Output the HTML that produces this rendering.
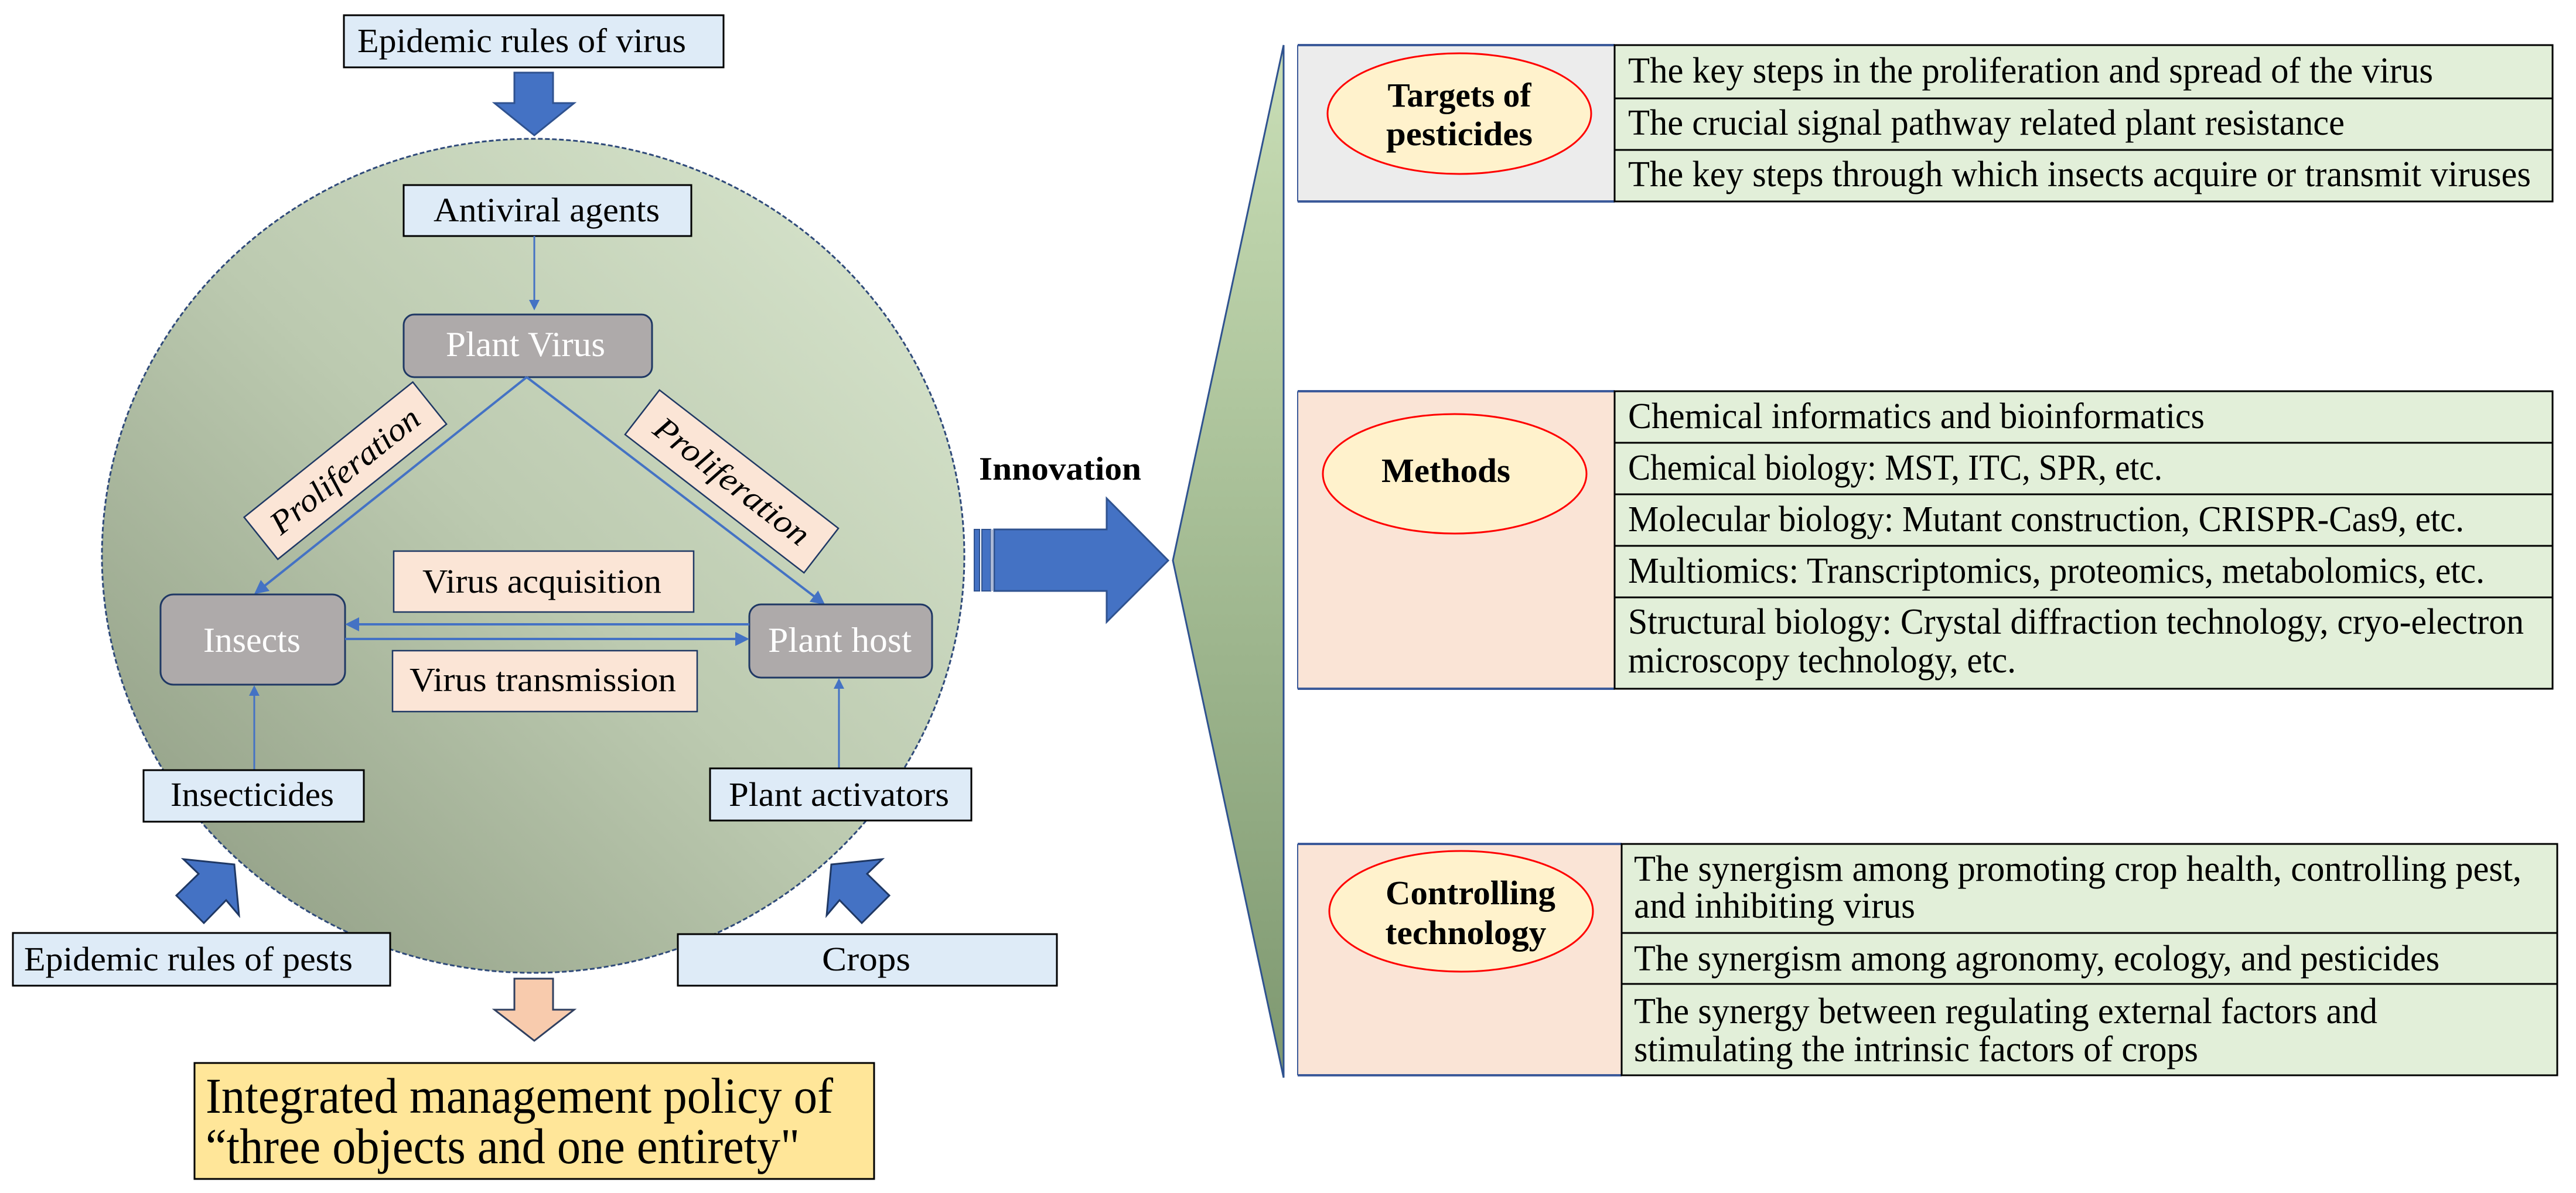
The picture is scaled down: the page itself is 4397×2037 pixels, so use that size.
<!DOCTYPE html>
<html><head><meta charset="utf-8"><style>
html,body{margin:0;padding:0;background:#fff}
svg{display:block}
text{font-family:"Liberation Serif",serif}
</style></head><body>
<svg width="4397" height="2037" viewBox="0 0 4397 2037" xmlns="http://www.w3.org/2000/svg">
<defs>
<linearGradient id="cg" x1="1" y1="0" x2="0" y2="1">
<stop offset="0" stop-color="#dbe8d0"/><stop offset="0.5" stop-color="#bccab0"/><stop offset="1" stop-color="#8a977e"/>
</linearGradient>
<linearGradient id="tg" x1="0" y1="0" x2="0" y2="1">
<stop offset="0" stop-color="#c9deb6"/><stop offset="1" stop-color="#7e9870"/>
</linearGradient>
<marker id="ah" markerWidth="6" markerHeight="6" refX="5" refY="3" orient="auto" markerUnits="strokeWidth">
<path d="M0,0 L6,3 L0,6 z" fill="#4472c4"/>
</marker>
</defs>

<ellipse cx="910" cy="949" rx="736" ry="712" fill="url(#cg)" stroke="#2f4a7a" stroke-width="3" stroke-dasharray="8,4"/>

<rect x="587" y="26" width="648" height="89" fill="#deebf7" stroke="#000" stroke-width="3"/>
<text x="610" y="89" font-size="58" textLength="561" lengthAdjust="spacingAndGlyphs">Epidemic rules of virus</text>
<polygon points="878,124 944,124 944,176 980,176 912,231 844,176 878,176" fill="#4472c4" stroke="#2f528f" stroke-width="3"/>

<rect x="689" y="316" width="491" height="87" fill="#deebf7" stroke="#000" stroke-width="3"/>
<text x="740" y="378" font-size="58" textLength="386" lengthAdjust="spacingAndGlyphs">Antiviral agents</text>
<line x1="912" y1="403" x2="912" y2="527" stroke="#4472c4" stroke-width="3" marker-end="url(#ah)"/>

<rect x="689" y="537" width="424" height="107" rx="18" fill="#aeaaaa" stroke="#1f3864" stroke-width="3"/>
<text x="761" y="608" font-size="60" fill="#fff" textLength="272" lengthAdjust="spacingAndGlyphs">Plant Virus</text>

<line x1="899" y1="644" x2="437" y2="1012" stroke="#4472c4" stroke-width="4" marker-end="url(#ah)"/>
<line x1="899" y1="644" x2="1405" y2="1030" stroke="#4472c4" stroke-width="4" marker-end="url(#ah)"/>

<g transform="translate(589,804) rotate(-38.7)">
<rect x="-184" y="-46" width="369" height="92" fill="#fbe5d6" stroke="#1f3864" stroke-width="2.5"/>
<text x="0" y="18" font-size="56" font-style="italic" text-anchor="middle" textLength="310" lengthAdjust="spacingAndGlyphs">Proliferation</text>
</g>
<g transform="translate(1249,822) rotate(37.7)">
<rect x="-193" y="-48" width="386" height="96" fill="#fbe5d6" stroke="#1f3864" stroke-width="2.5"/>
<text x="0" y="18" font-size="56" font-style="italic" text-anchor="middle" textLength="320" lengthAdjust="spacingAndGlyphs">Proliferation</text>
</g>

<rect x="672" y="941" width="512" height="104" fill="#fbe5d6" stroke="#1f3864" stroke-width="2.5"/>
<text x="721" y="1012" font-size="58" textLength="408" lengthAdjust="spacingAndGlyphs">Virus acquisition</text>
<rect x="670" y="1111" width="520" height="104" fill="#fbe5d6" stroke="#1f3864" stroke-width="2.5"/>
<text x="699" y="1180" font-size="58" textLength="455" lengthAdjust="spacingAndGlyphs">Virus transmission</text>

<rect x="274" y="1015" width="315" height="154" rx="22" fill="#aeaaaa" stroke="#1f3864" stroke-width="3"/>
<text x="347" y="1113" font-size="60" fill="#fff" textLength="166" lengthAdjust="spacingAndGlyphs">Insects</text>
<rect x="1279" y="1032" width="312" height="125" rx="20" fill="#aeaaaa" stroke="#1f3864" stroke-width="3"/>
<text x="1311" y="1113" font-size="60" fill="#fff" textLength="245" lengthAdjust="spacingAndGlyphs">Plant host</text>
<line x1="1279" y1="1066" x2="593" y2="1066" stroke="#4472c4" stroke-width="4" marker-end="url(#ah)"/>
<line x1="589" y1="1091" x2="1275" y2="1091" stroke="#4472c4" stroke-width="4" marker-end="url(#ah)"/>

<line x1="434" y1="1315" x2="434" y2="1173" stroke="#4472c4" stroke-width="3" marker-end="url(#ah)"/>
<line x1="1432" y1="1312" x2="1432" y2="1161" stroke="#4472c4" stroke-width="3" marker-end="url(#ah)"/>
<rect x="245" y="1315" width="376" height="88" fill="#deebf7" stroke="#000" stroke-width="3"/>
<text x="291" y="1376" font-size="58" textLength="279" lengthAdjust="spacingAndGlyphs">Insecticides</text>
<rect x="1212" y="1312" width="446" height="89" fill="#deebf7" stroke="#000" stroke-width="3"/>
<text x="1244" y="1376" font-size="58" textLength="376" lengthAdjust="spacingAndGlyphs">Plant activators</text>

<polygon points="313,1467 400,1476 408,1563 386,1537 348,1576 301,1529 339,1492" fill="#4472c4" stroke="#1f3864" stroke-width="3"/>
<polygon points="1506,1467 1419,1476 1411,1563 1433,1537 1471,1576 1518,1529 1480,1492" fill="#4472c4" stroke="#1f3864" stroke-width="3"/>

<rect x="22" y="1593" width="644" height="90" fill="#deebf7" stroke="#000" stroke-width="3"/>
<text x="41" y="1657" font-size="58" textLength="561" lengthAdjust="spacingAndGlyphs">Epidemic rules of pests</text>
<rect x="1157" y="1595" width="647" height="88" fill="#deebf7" stroke="#000" stroke-width="3"/>
<text x="1403" y="1657" font-size="58" textLength="151" lengthAdjust="spacingAndGlyphs">Crops</text>

<polygon points="878,1671 944,1671 944,1724 980,1724 912,1777 844,1724 878,1724" fill="#f8cbad" stroke="#2f3f5f" stroke-width="3"/>

<rect x="332" y="1815" width="1160" height="198" fill="#ffe699" stroke="#000" stroke-width="3"/>
<text x="351" y="1900" font-size="86" textLength="1071" lengthAdjust="spacingAndGlyphs">Integrated management policy of</text>
<text x="351" y="1986" font-size="86" textLength="1014" lengthAdjust="spacingAndGlyphs">“three objects and one entirety"</text>

<text x="1671" y="819" font-size="56" font-weight="bold" textLength="277" lengthAdjust="spacingAndGlyphs">Innovation</text>
<polygon points="1697,904 1889,904 1889,851 1994,957 1889,1062 1889,1009 1697,1009" fill="#4472c4" stroke="#2f528f" stroke-width="3"/>
<rect x="1663" y="904" width="9" height="105" fill="#4472c4" stroke="#2f528f" stroke-width="2"/>
<rect x="1676" y="904" width="15" height="105" fill="#4472c4" stroke="#2f528f" stroke-width="2"/>
<rect x="1691" y="904" width="5" height="105" fill="#aab8d6"/>

<polygon points="2191,77 2002,957 2191,1840" fill="url(#tg)" stroke="#2f528f" stroke-width="3"/>

<rect x="2215" y="77" width="541" height="267" fill="#ececec"/>
<line x1="2215" y1="77" x2="2756" y2="77" stroke="#3c5a9a" stroke-width="4"/>
<line x1="2215" y1="344" x2="2756" y2="344" stroke="#3c5a9a" stroke-width="4"/>
<line x1="2215" y1="77" x2="2215" y2="344" stroke="#3c5a9a" stroke-width="2"/>
<rect x="2756" y="77" width="1601" height="91" fill="#e2efd9" stroke="#000" stroke-width="3"/>
<rect x="2756" y="168" width="1601" height="88" fill="#e2efd9" stroke="#000" stroke-width="3"/>
<rect x="2756" y="256" width="1601" height="88" fill="#e2efd9" stroke="#000" stroke-width="3"/>
<ellipse cx="2491" cy="194" rx="225" ry="103" fill="#fff2cc" stroke="#ff0000" stroke-width="3"/>
<text x="2491" y="182" font-size="58" font-weight="bold" text-anchor="middle" textLength="245" lengthAdjust="spacingAndGlyphs">Targets of</text>
<text x="2491" y="248" font-size="58" font-weight="bold" text-anchor="middle" textLength="250" lengthAdjust="spacingAndGlyphs">pesticides</text>
<text x="2779" y="141" font-size="62" textLength="1374" lengthAdjust="spacingAndGlyphs">The key steps in the proliferation and spread of the virus</text>
<text x="2779" y="230" font-size="62" textLength="1223" lengthAdjust="spacingAndGlyphs">The crucial signal pathway related plant resistance</text>
<text x="2779" y="318" font-size="62" textLength="1541" lengthAdjust="spacingAndGlyphs">The key steps through which insects acquire or transmit viruses</text>

<rect x="2215" y="668" width="541" height="508" fill="#fae4d6"/>
<line x1="2215" y1="668" x2="2756" y2="668" stroke="#3c5a9a" stroke-width="4"/>
<line x1="2215" y1="1176" x2="2756" y2="1176" stroke="#3c5a9a" stroke-width="4"/>
<line x1="2215" y1="668" x2="2215" y2="1176" stroke="#3c5a9a" stroke-width="2"/>
<rect x="2756" y="668" width="1601" height="88" fill="#e2efd9" stroke="#000" stroke-width="3"/>
<rect x="2756" y="756" width="1601" height="88" fill="#e2efd9" stroke="#000" stroke-width="3"/>
<rect x="2756" y="844" width="1601" height="88" fill="#e2efd9" stroke="#000" stroke-width="3"/>
<rect x="2756" y="932" width="1601" height="88" fill="#e2efd9" stroke="#000" stroke-width="3"/>
<rect x="2756" y="1020" width="1601" height="156" fill="#e2efd9" stroke="#000" stroke-width="3"/>
<ellipse cx="2483" cy="809" rx="225" ry="102" fill="#fff2cc" stroke="#ff0000" stroke-width="3"/>
<text x="2468" y="823" font-size="58" font-weight="bold" text-anchor="middle" textLength="220" lengthAdjust="spacingAndGlyphs">Methods</text>
<text x="2779" y="731" font-size="62" textLength="984" lengthAdjust="spacingAndGlyphs">Chemical informatics and bioinformatics</text>
<text x="2779" y="819" font-size="62" textLength="912" lengthAdjust="spacingAndGlyphs">Chemical biology: MST, ITC, SPR, etc.</text>
<text x="2779" y="907" font-size="62" textLength="1427" lengthAdjust="spacingAndGlyphs">Molecular biology: Mutant construction, CRISPR-Cas9, etc.</text>
<text x="2779" y="995" font-size="62" textLength="1462" lengthAdjust="spacingAndGlyphs">Multiomics: Transcriptomics, proteomics, metabolomics, etc.</text>
<text x="2779" y="1082" font-size="62" textLength="1529" lengthAdjust="spacingAndGlyphs">Structural biology: Crystal diffraction technology, cryo-electron</text>
<text x="2779" y="1148" font-size="62" textLength="662" lengthAdjust="spacingAndGlyphs">microscopy technology, etc.</text>

<rect x="2215" y="1441" width="553" height="395" fill="#fae4d6"/>
<line x1="2215" y1="1441" x2="2768" y2="1441" stroke="#3c5a9a" stroke-width="4"/>
<line x1="2215" y1="1836" x2="2768" y2="1836" stroke="#3c5a9a" stroke-width="4"/>
<line x1="2215" y1="1441" x2="2215" y2="1836" stroke="#3c5a9a" stroke-width="2"/>
<rect x="2768" y="1441" width="1597" height="152" fill="#e2efd9" stroke="#000" stroke-width="3"/>
<rect x="2768" y="1593" width="1597" height="87" fill="#e2efd9" stroke="#000" stroke-width="3"/>
<rect x="2768" y="1680" width="1597" height="156" fill="#e2efd9" stroke="#000" stroke-width="3"/>
<ellipse cx="2494" cy="1556" rx="225" ry="103" fill="#fff2cc" stroke="#ff0000" stroke-width="3"/>
<text x="2510" y="1544" font-size="58" font-weight="bold" text-anchor="middle" textLength="290" lengthAdjust="spacingAndGlyphs">Controlling</text>
<text x="2502" y="1612" font-size="58" font-weight="bold" text-anchor="middle" textLength="275" lengthAdjust="spacingAndGlyphs">technology</text>
<text x="2789" y="1504" font-size="62" textLength="1515" lengthAdjust="spacingAndGlyphs">The synergism among promoting crop health, controlling pest,</text>
<text x="2789" y="1567" font-size="62" textLength="480" lengthAdjust="spacingAndGlyphs">and inhibiting virus</text>
<text x="2789" y="1657" font-size="62" textLength="1375" lengthAdjust="spacingAndGlyphs">The synergism among agronomy, ecology, and pesticides</text>
<text x="2789" y="1747" font-size="62" textLength="1269" lengthAdjust="spacingAndGlyphs">The synergy between regulating external factors and</text>
<text x="2789" y="1812" font-size="62" textLength="963" lengthAdjust="spacingAndGlyphs">stimulating the intrinsic factors of crops</text>
</svg>
</body></html>
